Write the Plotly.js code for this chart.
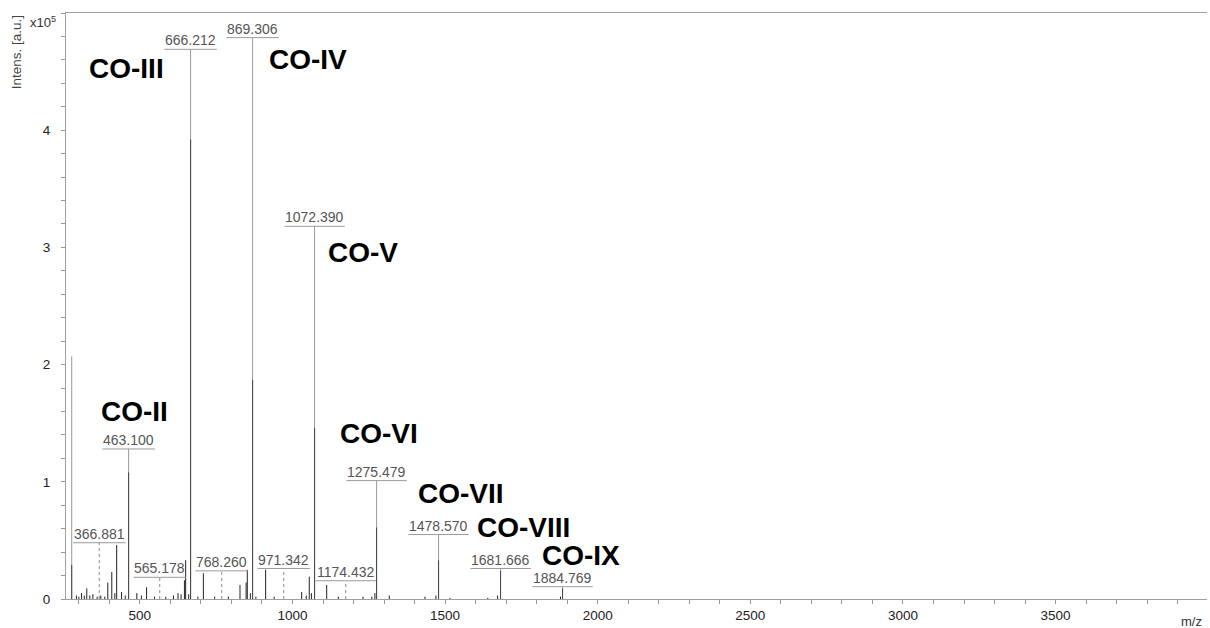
<!DOCTYPE html>
<html>
<head>
<meta charset="utf-8">
<script src="https://cdn.plot.ly/plotly-3.0.1.min.js"></script>
<style>html,body{margin:0;padding:0;background:#fff;}#chart{width:1210px;height:628px;}</style>
</head>
<body>
<div id="chart"></div>
<script>
// ---- Data (intensities in units of 1e5 a.u.) ----
// Labelled peaks (m/z, label height, dotted connector?)
const labelMz = [366.881, 463.100, 565.178, 666.212, 768.260, 869.306, 971.342, 1072.390, 1174.432, 1275.479, 1478.570, 1681.666, 1884.769];
const labelText = ['366.881', '463.100', '565.178', '666.212', '768.260', '869.306', '971.342', '1072.390', '1174.432', '1275.479', '1478.570', '1681.666', '1884.769'];
const labelHeight = [0.48, 1.28, 0.185, 4.69, 0.24, 4.79, 0.26, 3.18, 0.156, 1.01, 0.55, 0.26, 0.105];
const labelDotted = [true, false, true, false, true, false, true, false, true, false, false, false, false];

// Major peaks: apex height and dense-core height
const peakMz = [276.7, 463.100, 666.212, 869.306, 1072.390, 1275.479, 1478.570, 1681.666, 1884.769];
const peakApex = [2.07, 1.28, 4.69, 4.79, 3.18, 1.01, 0.55, 0.26, 0.105];
const peakCore = [0.29, 1.08, 3.92, 1.87, 1.46, 0.61, 0.33, 0.24, 0.09];

// Minor peaks
const minorMz = [292, 300, 309, 318, 326, 336, 346, 360, 372, 385, 395, 408, 418, 424, 440, 452, 490, 505, 522, 548, 585, 610, 625, 635, 646, 650, 660, 690, 708, 745, 790, 828, 848, 852, 862, 880, 912, 940, 1030, 1045, 1055, 1062, 1112, 1150, 1231, 1260, 1270, 1317, 1434, 1470, 1516, 1640, 1672, 1878];
const minorH  = [0.03, 0.02, 0.05, 0.03, 0.09, 0.03, 0.04, 0.02, 0.03, 0.02, 0.14, 0.23, 0.05, 0.46, 0.06, 0.03, 0.05, 0.03, 0.10, 0.02, 0.02, 0.03, 0.05, 0.04, 0.16, 0.33, 0.04, 0.02, 0.22, 0.02, 0.02, 0.12, 0.14, 0.25, 0.05, 0.02, 0.25, 0.02, 0.06, 0.03, 0.19, 0.05, 0.12, 0.02, 0.02, 0.02, 0.05, 0.03, 0.02, 0.03, 0.01, 0.01, 0.03, 0.02];

// Compound labels
const coText = ['CO-II', 'CO-III', 'CO-IV', 'CO-V', 'CO-VI', 'CO-VII', 'CO-VIII', 'CO-IX'];
const coMz   = [369, 330, 920, 1113, 1152, 1408, 1601, 1814];
const coY    = [1.60, 4.53, 4.60, 2.96, 1.41, 0.90, 0.61, 0.375];

// Axis ticks
const xTickVals = [500, 1000, 1500, 2000, 2500, 3000, 3500];
const yTickVals = [0, 1, 2, 3, 4];

const FONT = 'Liberation Sans, Arial, sans-serif';

function sticks(ms, hs) {
  const x = [], y = [];
  ms.forEach((m, i) => { x.push(m, m, null); y.push(0, hs[i], null); });
  return {x, y};
}

const traces = [];
const mn = sticks(minorMz, minorH);
traces.push({type: 'scatter', mode: 'lines', x: mn.x, y: mn.y, line: {color: '#222', width: 1}, hoverinfo: 'skip'});
const ap = sticks(peakMz, peakApex);
traces.push({type: 'scatter', mode: 'lines', x: ap.x, y: ap.y, line: {color: '#9a9a9a', width: 1}, hoverinfo: 'skip'});
const co = sticks(peakMz, peakCore);
traces.push({type: 'scatter', mode: 'lines', x: co.x, y: co.y, line: {color: '#444', width: 1}, hoverinfo: 'skip'});
const dm = [], dh = [];
labelMz.forEach((m, i) => { if (labelDotted[i]) { dm.push(m); dh.push(labelHeight[i]); } });
const dt = sticks(dm, dh);
traces.push({type: 'scatter', mode: 'lines', x: dt.x, y: dt.y, line: {color: '#888', width: 1, dash: 'dot'}, hoverinfo: 'skip'});

const LFS = 14;
function textWidth(s, fs) {
  let w = 0;
  for (const c of s) w += (c === '.') ? 0.278 : 0.556;
  return w * fs;
}

const annotations = [];
const shapes = [];
labelMz.forEach((m, i) => {
  annotations.push({
    x: m, y: labelHeight[i], xref: 'x', yref: 'y', text: labelText[i],
    showarrow: false, xanchor: 'center', yanchor: 'bottom', yshift: -1,
    font: {family: FONT, size: LFS, color: '#555'}
  });
  const hw = textWidth(labelText[i], LFS) / 2 + 1;
  shapes.push({
    type: 'line', xref: 'x', yref: 'y', xsizemode: 'pixel', xanchor: m,
    x0: -hw, x1: hw, y0: labelHeight[i], y1: labelHeight[i],
    line: {color: '#9a9a9a', width: 1}
  });
});

coText.forEach((t, i) => {
  annotations.push({
    x: coMz[i], y: coY[i], xref: 'x', yref: 'y', text: t, showarrow: false,
    xanchor: 'left', yanchor: 'middle', borderpad: 0,
    font: {family: FONT, size: 28, color: '#000', weight: 'bold'}
  });
});

annotations.push({
  xref: 'paper', yref: 'paper', x: -0.0435, y: 1, xanchor: 'center', yanchor: 'top',
  text: 'Intens. [a.u.]', textangle: -90, showarrow: false,
  font: {family: FONT, size: 13.5, color: '#444'}
});
annotations.push({
  xref: 'paper', yref: 'paper', x: -0.020, y: 0.9846, xanchor: 'center', yanchor: 'middle',
  text: 'x10<sup>5</sup>', showarrow: false,
  font: {family: FONT, size: 13, color: '#333'}
});
annotations.push({
  xref: 'paper', yref: 'paper', x: 0.986, y: -0.039, xanchor: 'center', yanchor: 'middle',
  text: 'm/z', showarrow: false,
  font: {family: FONT, size: 13, color: '#333'}
});

const layout = {
  width: 1210, height: 628,
  margin: {l: 66, r: 3, t: 13, b: 29, pad: 0},
  paper_bgcolor: '#fff', plot_bgcolor: '#fff',
  showlegend: false,
  font: {family: FONT, size: 13.5, color: '#222'},
  xaxis: {
    range: [258, 3996], showgrid: false, zeroline: false,
    showline: true, linecolor: '#a0a0a0', linewidth: 1, mirror: true,
    tickvals: xTickVals, ticks: 'outside', ticklen: 4, tickcolor: '#999',
    tickfont: {family: FONT, size: 13.5, color: '#222'},
    minor: {dtick: 100, tick0: 0, ticks: 'outside', ticklen: 4, tickcolor: '#999', showgrid: false}
  },
  yaxis: {
    range: [0, 5], showgrid: false, zeroline: false,
    showline: true, linecolor: '#a0a0a0', linewidth: 1, mirror: false,
    tickvals: yTickVals, ticks: 'outside', ticklen: 4, tickcolor: '#999',
    tickfont: {family: FONT, size: 13.5, color: '#222'},
    ticklabelstandoff: 8,
    minor: {dtick: 0.2, tick0: 0, ticks: 'outside', ticklen: 4, tickcolor: '#999', showgrid: false}
  },
  annotations: annotations,
  shapes: shapes
};

Plotly.newPlot('chart', traces, layout, {staticPlot: true, displayModeBar: false});
</script>
</body>
</html>
